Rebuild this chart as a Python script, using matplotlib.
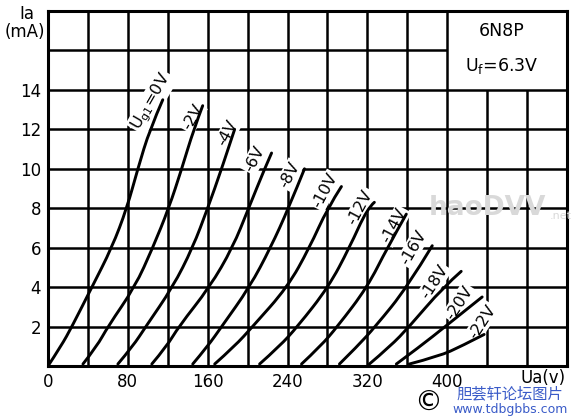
import matplotlib
matplotlib.use('Agg')
import matplotlib.pyplot as plt
from matplotlib.path import Path
from matplotlib.patches import PathPatch

# anode voltage (V) and anode current (mA) per grid voltage
grid_volts = ['0', '-2', '-4', '-6', '-8', '-10', '-12', '-14', '-16', '-18', '-20', '-22']
ua_0 = [0, 13, 24, 44, 64, 79, 90, 102, 115]
ia_0 = [0, 1, 2, 4, 6, 8, 10, 12, 13.5]
ua_2 = [35, 49, 60, 87, 105, 121, 134, 146, 155]
ia_2 = [0.1, 1, 2, 4, 6, 8, 10, 12, 13.2]
ua_4 = [70, 85, 98, 125, 145, 160, 174, 187]
ia_4 = [0.1, 1, 2, 4, 6, 8, 10, 12]
ua_6 = [104, 119, 131, 162, 185, 201, 217, 224]
ia_6 = [0.1, 1, 2, 4, 6, 8, 10, 10.8]
ua_8 = [145, 160, 174, 202, 223, 241, 257]
ia_8 = [0.1, 1, 2, 4, 6, 8, 10]
ua_10 = [167, 187, 205, 240, 262, 280, 294]
ia_10 = [0.1, 1, 2, 4, 6, 8, 9.1]
ua_12 = [212, 232, 250, 281, 302, 320, 327]
ia_12 = [0.1, 1, 2, 4, 6, 8, 8.3]
ua_14 = [254, 273, 290, 320, 340, 359]
ia_14 = [0.1, 1, 2, 4, 6, 7.7]
ua_16 = [292, 310, 328, 360, 385]
ia_16 = [0.1, 1, 2, 4, 6.1]
ua_18 = [322, 343, 362, 396, 414]
ia_18 = [0.1, 1, 2, 4, 4.8]
ua_20 = [349, 373, 398, 435]
ia_20 = [0.1, 1, 2, 3.5]
ua_22 = [362, 392, 414, 437]
ia_22 = [0.1, 0.5, 1, 1.6]

curves_ua = [ua_0, ua_2, ua_4, ua_6, ua_8, ua_10, ua_12, ua_14, ua_16, ua_18, ua_20, ua_22]
curves_ia = [ia_0, ia_2, ia_4, ia_6, ia_8, ia_10, ia_12, ia_14, ia_16, ia_18, ia_20, ia_22]

# label anchor points (V, mA) and angle
label_ua = [104, 145, 180, 207, 242, 278, 313, 347, 366, 387, 412, 435]
label_ia = [13.4, 12.6, 11.8, 10.5, 9.7, 8.9, 8.05, 7.1, 6.0, 4.25, 3.2, 2.25]
label_rot = [60, 60, 62, 62, 62, 62, 62, 62, 60, 57, 57, 57]

x_ticks = [0, 80, 160, 240, 320, 400]
y_ticks = [2, 4, 6, 8, 10, 12, 14]


def smooth_path(xs, ys):
    # quadratic bezier through midpoints, just to draw the hand curves smoothly
    pts = list(zip(xs, ys))
    verts = [pts[0]]
    codes = [Path.MOVETO]
    n = len(pts)
    for i in range(1, n - 1):
        if i == n - 2:
            end = pts[-1]
        else:
            end = ((pts[i][0] + pts[i + 1][0]) / 2, (pts[i][1] + pts[i + 1][1]) / 2)
        verts += [pts[i], end]
        codes += [Path.CURVE3, Path.CURVE3]
    if n == 2:
        verts.append(pts[1])
        codes.append(Path.LINETO)
    return Path(verts, codes)


fig = plt.figure(figsize=(5.77, 4.2), dpi=100)
ax = fig.add_axes([48 / 577, 1 - 366 / 420, 519 / 577, 355 / 420])
ax.set_xlim(0, 520)
ax.set_ylim(0, 18)

lw = 1.8
# grid, leaving the type box (400-520 V, 14-18 mA) empty
for x in range(40, 520, 40):
    top = 14 if x > 400 else 18
    ax.plot([x, x], [0, top], color='black', lw=lw, zorder=1, solid_capstyle='butt')
for y in range(2, 18, 2):
    right = 400 if y > 14 else 520
    ax.plot([0, right], [y, y], color='black', lw=lw, zorder=1, solid_capstyle='butt')
for s in ax.spines.values():
    s.set_linewidth(2.2)

for ua, ia in zip(curves_ua, curves_ia):
    ax.add_patch(PathPatch(smooth_path(ua, ia), facecolor='none', edgecolor='black',
                           lw=2.1, zorder=4, capstyle='round', joinstyle='round'))

for i, g in enumerate(grid_volts):
    txt = g + 'V'
    if i == 0:
        txt = r'U$_{\mathrm{g1}}$=0V'
    ax.text(label_ua[i], label_ia[i], txt, rotation=label_rot[i], fontsize=11.5,
            ha='center', va='center', rotation_mode='anchor', zorder=3,
            bbox=dict(facecolor='white', edgecolor='none', pad=1.0))

ax.set_xticks(x_ticks)
ax.set_xticklabels([str(v) for v in x_ticks], fontsize=12)
ax.set_yticks(y_ticks)
ax.set_yticklabels([str(v) for v in y_ticks], fontsize=12)
ax.tick_params(length=0, pad=5)

ax.text(455, 17.0, '6N8P', fontsize=12.5, ha='center', va='center')
ax.text(455, 15.2, r'U$_{\mathrm{f}}$=6.3V', fontsize=12.5, ha='center', va='center')

fig.text(27 / 577, 1 - 14 / 420, 'Ia', fontsize=12, ha='center', va='center')
fig.text(25 / 577, 1 - 32 / 420, '(mA)', fontsize=12, ha='center', va='center')
fig.text(543 / 577, 1 - 378 / 420, 'Ua(v)', fontsize=12, ha='center', va='center')

# watermarks
ax.text(440, 8.0, 'haoDVV', fontsize=19, color='#d9d9d9', ha='center', va='center',
        fontweight='bold', zorder=5)
ax.text(503, 7.6, '.net', fontsize=8, color='#d9d9d9', ha='left', va='center', zorder=5)
fig.text(428 / 577, 1 - 403 / 420, '©', fontsize=20, ha='center', va='center')
fig.text(510 / 577, 1 - 394 / 420, '胆荟轩论坛图片', fontsize=11, color='#3a5bc8',
         ha='center', va='center', family=['Noto Sans CJK SC', 'DejaVu Sans'])
fig.text(510 / 577, 1 - 410 / 420, 'www.tdbgbbs.com', fontsize=9, color='#3a5bc8',
         ha='center', va='center')

fig.savefig('out.png', dpi=100)
